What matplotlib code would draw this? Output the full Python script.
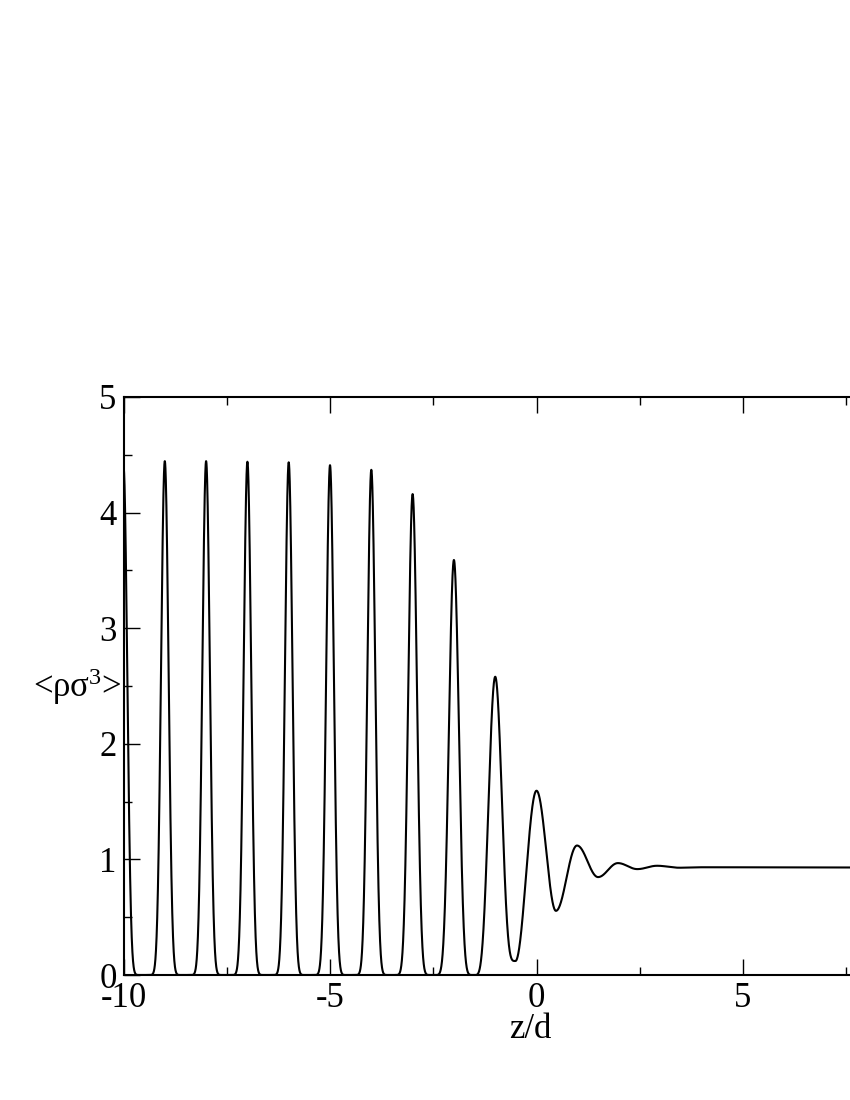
import numpy as np
import matplotlib.pyplot as plt
from matplotlib.ticker import MultipleLocator
import matplotlib.transforms as mtransforms

plt.rcParams['font.family'] = ['Liberation Serif', 'DejaVu Serif']
plt.rcParams['mathtext.fontset'] = 'custom'
plt.rcParams['mathtext.rm'] = 'Liberation Serif'
plt.rcParams['mathtext.it'] = 'Liberation Serif:italic'
plt.rcParams['axes.unicode_minus'] = False

# density peaks (layer positions, heights) and sharpness of each peak
peak_z = [-10, -9, -8, -7, -6, -5, -4, -3, -2, -1, 0, 0.98, 1.97, 2.92]
peak_h = [4.40, 4.445, 4.445, 4.44, 4.435, 4.41, 4.37, 4.16, 3.59, 2.58, 1.594, 1.12, 0.968, 0.945]
peak_p = [6.2, 6.2, 6.2, 6.2, 6.2, 6.0, 5.6, 4.6, 3.5, 2.0, 1.0, 1.0, 1.0, 1.0]

# minima between the peaks
min_z = [-9.5, -8.5, -7.5, -6.5, -5.5, -4.5, -3.5, -2.5, -1.5, -0.51, 0.47, 1.49, 2.44, 3.45]
min_v = [0, 0, 0, 0, 0, 0, 0, 0, 0, 0.121, 0.555, 0.847, 0.916, 0.928]

# bulk fluid tail
tail_z = [4.0, 7.6]
tail_v = [0.932, 0.930]


def build_profile():
    pts = []
    for z, h, p in zip(peak_z, peak_h, peak_p):
        pts.append((z, h, p, True))
    for z, v in zip(min_z, min_v):
        pts.append((z, v, 1.0, False))
    pts.append((tail_z[0], tail_v[0], 1.0, True))
    pts.append((tail_z[1], tail_v[1], 1.0, False))
    pts.sort(key=lambda q: q[0])

    zs, vs = [], []
    for a, b in zip(pts[:-1], pts[1:]):
        zz = np.linspace(a[0], b[0], 300)
        t = (zz - a[0]) / (b[0] - a[0])
        if a[3]:
            f = ((1 + np.cos(np.pi * t)) / 2) ** a[2]
            vv = b[1] + (a[1] - b[1]) * f
        else:
            f = ((1 + np.cos(np.pi * (1 - t))) / 2) ** b[2]
            vv = a[1] + (b[1] - a[1]) * f
        zs.extend(zz[:-1])
        vs.extend(vv[:-1])
    zs.append(pts[-1][0])
    vs.append(pts[-1][1])
    return np.array(zs), np.array(vs)


z, rho = build_profile()

fig = plt.figure(figsize=(8.5, 11), dpi=100)
ax = fig.add_axes([123.5 / 850, 1 - 975 / 1100, (850 - 123.5) / 850, (975 - 397) / 1100])

ax.plot(z, rho, color='k', lw=1.5)

ax.set_xlim(-10, 7.59)
ax.set_ylim(0, 5)
ax.xaxis.set_major_locator(MultipleLocator(5))
ax.xaxis.set_minor_locator(MultipleLocator(2.5))
ax.yaxis.set_major_locator(MultipleLocator(1))
ax.yaxis.set_minor_locator(MultipleLocator(0.5))
ax.tick_params(which='both', direction='in', top=True, right=False, width=1.0)
ax.tick_params(which='major', length=11.5, labelsize=25, pad=5)
ax.tick_params(which='minor', length=5.5)
for s in ['left', 'bottom', 'top']:
    ax.spines[s].set_linewidth(1.5)
ax.spines['right'].set_visible(False)

ax.set_xlabel('z/d', fontsize=25, va='top')
ax.xaxis.set_label_coords(-0.16, -0.066,
                          transform=mtransforms.blended_transform_factory(ax.transData, ax.transAxes))
ax.set_ylabel('<ρσ$^{3}$>', fontsize=25, rotation=0, ha='right', va='baseline')
ax.yaxis.set_label_coords(-0.002, 0.481)

fig.savefig('out.png', dpi=100)
